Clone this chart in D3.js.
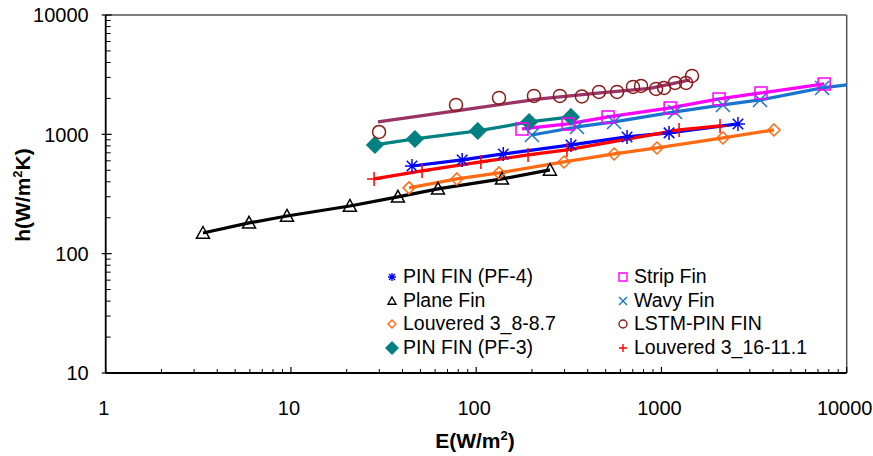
<!DOCTYPE html>
<html lang="en">
<head>
    <meta charset="UTF-8">
    <script src="https://cdn.jsdelivr.net/npm/d3@7"></script>
    <title>h vs E</title>
    <style>
        body { margin: 0; background: white; }
        text { font-family: 'Liberation Sans', Arial, sans-serif; fill: #000; }
        .tick-label { font-size: 20px; }
        .axis-title { font-size: 21px; font-weight: bold; }
        .legend-label { font-size: 19.5px; }
    </style>
</head>
<body>
<div id="chart"></div>
<script>
    // ---- data: [E (W/m2), h (W/m2K)] ----
    const pinFin4 = [[45, 543], [84, 610], [140, 685], [325, 815], [652, 951], [1099, 1028], [2589, 1222]];
    const planeFin = [[3.35, 149], [5.94, 181], [9.52, 207], [20.8, 251], [37.8, 299], [62.2, 349], [137.8, 423], [250, 503]];
    const louvered38 = [[43.4, 356], [78.7, 423], [132.8, 475], [298, 587], [555, 685], [946, 769], [2148, 933], [4050, 1089]];
    const pinFin3 = [[28.4, 815], [46.7, 915], [102, 1068], [193, 1270], [325, 1399]];
    const stripFin = [[176.7, 1110], [313, 1222], [515, 1399], [1114, 1665], [2046, 1981], [3447, 2223], [7558, 2646]];
    const wavyFin = [[200, 988], [350, 1153], [555, 1270], [1184, 1541], [2148, 1764], [3404, 1942], [7363, 2449]];
    const wavyFinLine = [[200, 988], [350, 1153], [555, 1270], [1184, 1541], [2148, 1764], [3404, 1942], [7363, 2449], [10000, 2594]];
    const lstmPoints = [[29.9, 1047], [77.8, 1764], [132.8, 2019], [205, 2099], [283, 2099], [372, 2079], [460, 2266], [576, 2266],
        [702, 2497], [776, 2545], [935, 2404], [1033, 2449], [1184, 2697], [1358, 2697], [1462, 3087]];
    const lstmLine = [[29.5, 1270], [77.8, 1571], [221, 1981], [466, 2223], [867, 2427], [1426, 2858]];
    const louvered316 = [[28.1, 423], [51, 494], [106, 587], [190.5, 672], [309, 740], [1245, 1089], [2071, 1176]];

    const xTicks = [1, 10, 100, 1000, 10000];
    const yTicks = [10, 100, 1000, 10000];

    // series table (legend order: left column first, then right column)
    const series = [
        { name: "PIN FIN (PF-4)", pts: pinFin4, line: pinFin4, color: "#0000ff", lineColor: "#0000ff", marker: "asterisk" },
        { name: "Plane Fin", pts: planeFin, line: planeFin, color: "#000000", lineColor: "#000000", marker: "triangle" },
        { name: "Louvered 3_8-8.7", pts: louvered38, line: louvered38, color: "#ff6a13", lineColor: "#ff6a13", marker: "diamond" },
        { name: "PIN FIN (PF-3)", pts: pinFin3, line: pinFin3, color: "#008080", lineColor: "#008080", marker: "diamondFill" },
        { name: "Strip Fin", pts: stripFin, line: stripFin, color: "#ff00ff", lineColor: "#ff00ff", marker: "square" },
        { name: "Wavy Fin", pts: wavyFin, line: wavyFinLine, color: "#1874cd", lineColor: "#1874cd", marker: "x" },
        { name: "LSTM-PIN FIN", pts: lstmPoints, line: lstmLine, color: "#8b1a1a", lineColor: "#993366", marker: "circle" },
        { name: "Louvered 3_16-11.1", pts: louvered316, line: louvered316, color: "#ff0000", lineColor: "#ff0000", marker: "plus" }
    ];
    const drawOrder = [1, 2, 0, 7, 3, 5, 4, 6];

    const width = 873, height = 456;
    const mLeft = 105.7, mRight = 846.7, mTop = 15, mBottom = 373;

    const svg = d3.select("#chart").append("svg")
        .attr("width", width)
        .attr("height", height);

    const x = d3.scaleLog().domain([1, 10000]).range([mLeft, mRight]);
    const y = d3.scaleLog().domain([10, 10000]).range([mBottom, mTop]);

    // marker paths, r = half size
    function markerPath(type, r) {
        switch (type) {
            case "triangle": return `M0,${-r}L${r},${r * 0.8}L${-r},${r * 0.8}Z`;
            case "diamond":
            case "diamondFill": return `M0,${-r}L${r},0L0,${r}L${-r},0Z`;
            case "square": return `M${-r},${-r}H${r}V${r}H${-r}Z`;
            case "circle": return d3.arc()({ innerRadius: 0, outerRadius: r, startAngle: 0, endAngle: 2 * Math.PI });
            case "plus": return `M${-r},0H${r}M0,${-r}V${r}`;
            case "x": return `M${-r},${-r}L${r},${r}M${r},${-r}L${-r},${r}`;
            case "asterisk": {
                const d = r * 0.75;
                return `M0,${-r}V${r}M${-d},${-d}L${d},${d}M${d},${-d}L${-d},${d}M${-r},0H${r}`;
            }
        }
    }
    const plotSize = { diamondFill: 8, circle: 6.5, triangle: 6.5, asterisk: 7, x: 7, plus: 7, square: 6, diamond: 6 };

    // frame
    svg.append("line").attr("x1", mLeft).attr("x2", mRight).attr("y1", mTop).attr("y2", mTop)
        .attr("stroke", "#555").attr("stroke-width", 1.5);
    svg.append("line").attr("x1", mRight).attr("x2", mRight).attr("y1", mTop).attr("y2", mBottom)
        .attr("stroke", "#555").attr("stroke-width", 1.5);

    // y ticks (minor inside, majors also poke outside)
    const yMinor = [];
    yTicks.slice(0, -1).forEach(t => { for (let k = 2; k <= 9; k++) yMinor.push(t * k); });
    svg.selectAll(".yminor").data(yMinor).enter().append("line")
        .attr("x1", mLeft).attr("x2", mLeft + 5)
        .attr("y1", d => y(d)).attr("y2", d => y(d))
        .attr("stroke", "#000").attr("stroke-width", 1);
    svg.selectAll(".ymajor").data(yTicks).enter().append("line")
        .attr("x1", mLeft - 4).attr("x2", mLeft + 6)
        .attr("y1", d => y(d)).attr("y2", d => y(d))
        .attr("stroke", "#000").attr("stroke-width", 1.2);
    svg.selectAll(".ylab").data(yTicks).enter().append("text")
        .attr("class", "tick-label")
        .attr("x", mLeft - 17).attr("y", d => y(d) + 2)
        .attr("text-anchor", "end").attr("dominant-baseline", "middle")
        .text(d => d);

    // x ticks
    const xMinor = [];
    xTicks.slice(0, -1).forEach(t => { for (let k = 2; k <= 9; k++) xMinor.push(t * k); });
    svg.selectAll(".xminor").data(xMinor).enter().append("line")
        .attr("x1", d => x(d)).attr("x2", d => x(d))
        .attr("y1", mBottom).attr("y2", mBottom - 4)
        .attr("stroke", "#000").attr("stroke-width", 1);
    svg.selectAll(".xmajor").data(xTicks).enter().append("line")
        .attr("x1", d => x(d)).attr("x2", d => x(d))
        .attr("y1", mBottom).attr("y2", mBottom - 6)
        .attr("stroke", "#000").attr("stroke-width", 1.2);
    svg.selectAll(".xlab").data(xTicks).enter().append("text")
        .attr("class", "tick-label")
        .attr("x", d => x(d) - 2).attr("y", mBottom + 42)
        .attr("text-anchor", "middle")
        .text(d => d);

    // axes lines
    svg.append("line").attr("x1", mLeft).attr("x2", mLeft).attr("y1", mTop).attr("y2", mBottom)
        .attr("stroke", "#000").attr("stroke-width", 1.8);
    svg.append("line").attr("x1", mLeft).attr("x2", mRight).attr("y1", mBottom).attr("y2", mBottom)
        .attr("stroke", "#000").attr("stroke-width", 1.8);

    // axis titles
    const xt = svg.append("text").attr("class", "axis-title")
        .attr("x", 475).attr("y", 448).attr("text-anchor", "middle");
    xt.append("tspan").text("E(W/m");
    xt.append("tspan").attr("dy", -8).attr("font-size", 13).text("2");
    xt.append("tspan").attr("dy", 8).text(")");

    const yt = svg.append("text").attr("class", "axis-title")
        .attr("transform", "translate(30,195) rotate(-90)")
        .attr("text-anchor", "middle");
    yt.append("tspan").text("h(W/m");
    yt.append("tspan").attr("dy", -8).attr("font-size", 13).text("2");
    yt.append("tspan").attr("dy", 8).text("K)");

    // lines and markers
    const lineGen = d3.line().x(d => x(d[0])).y(d => y(d[1]));
    const plot = svg.append("g");
    drawOrder.forEach(i => {
        const s = series[i];
        plot.append("path")
            .datum(s.line)
            .attr("d", lineGen)
            .attr("fill", "none")
            .attr("stroke", s.lineColor)
            .attr("stroke-width", 3.2)
            .attr("stroke-linejoin", "round");
    });
    drawOrder.forEach(i => {
        const s = series[i];
        plot.selectAll(null).data(s.pts).enter().append("path")
            .attr("transform", d => `translate(${x(d[0])},${y(d[1])})`)
            .attr("d", markerPath(s.marker, plotSize[s.marker]))
            .attr("fill", s.marker === "diamondFill" ? s.color : "none")
            .attr("stroke", s.color)
            .attr("stroke-width", 1.5);
    });

    // legend
    const legendCols = [392, 623];
    const legendRows = [277, 301, 324, 348];
    const legend = svg.append("g");
    series.forEach((s, i) => {
        const lx = legendCols[Math.floor(i / 4)];
        const ly = legendRows[i % 4];
        legend.append("path")
            .attr("transform", `translate(${lx},${ly})`)
            .attr("d", markerPath(s.marker, s.marker === "diamondFill" ? 6 : 4))
            .attr("fill", s.marker === "diamondFill" ? s.color : "none")
            .attr("stroke", s.color)
            .attr("stroke-width", 1.4);
        legend.append("text")
            .attr("class", "legend-label")
            .attr("x", lx + 11).attr("y", ly + 1)
            .attr("dominant-baseline", "middle")
            .text(s.name);
    });
</script>
</body>
</html>
